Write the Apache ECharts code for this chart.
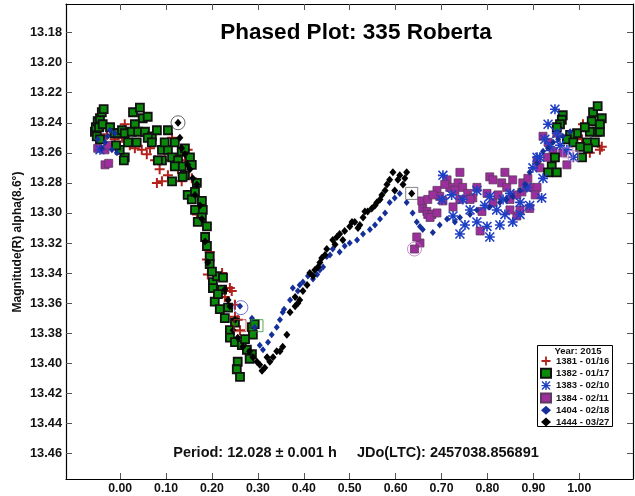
<!DOCTYPE html>
<html>
<head>
<meta charset="utf-8">
<script src="https://cdn.jsdelivr.net/npm/echarts@6/dist/echarts.min.js"></script>
<style>
html,body{margin:0;padding:0;background:#fff;}
#chart{width:635px;height:496px;}
</style>
</head>
<body>
<div id="chart"></div>
<script>
// ---- Data (phase, magnitude) ----
const seriesNames = ['1381 - 01/16','1382 - 01/17','1383 - 02/10','1384 - 02/11','1404 - 02/18','1444 - 03/27'];
const xTicks = [0,0.1,0.2,0.3,0.4,0.5,0.6,0.7,0.8,0.9,1.0];
const yTicks = [13.18,13.20,13.22,13.24,13.26,13.28,13.30,13.32,13.34,13.36,13.38,13.40,13.42,13.44,13.46];
const xRange = [-0.118, 1.117];
const yRange = [13.161, 13.477];

const s1381 = [[0.010,13.241],[0.004,13.250],[0.047,13.258],[0.058,13.261],[0.086,13.271],[0.091,13.279],[0.113,13.250],[0.134,13.279],[0.156,13.277],[0.167,13.301],[-0.029,13.248],[-0.012,13.251],[0.021,13.255],[0.032,13.257],[0.065,13.257],[0.076,13.265],[0.097,13.265],[0.126,13.271],[0.141,13.265],[0.147,13.258],[0.104,13.275],[0.080,13.280],[0.195,13.326],[0.189,13.331],[0.191,13.341],[0.222,13.340],[0.239,13.350],[0.243,13.352],[0.250,13.361],[0.256,13.371],[0.250,13.369],[0.261,13.378],[0.228,13.356],[1.008,13.241],[1.006,13.251],[1.045,13.258],[1.049,13.256],[1.023,13.260],[0.984,13.253],[0.995,13.250]];

const s1382 = [[-0.055,13.246],[-0.053,13.243],[-0.049,13.239],[-0.044,13.237],[-0.040,13.233],[-0.036,13.231],[-0.051,13.249],[-0.044,13.251],[-0.046,13.243],[-0.038,13.241],[-0.022,13.243],[-0.012,13.247],[-0.005,13.247],[0.004,13.245],[0.010,13.247],[0.017,13.253],[0.010,13.263],[-0.001,13.258],[-0.009,13.255],[0.028,13.233],[0.043,13.230],[0.049,13.237],[0.060,13.236],[0.032,13.241],[0.025,13.246],[0.039,13.246],[0.054,13.246],[0.069,13.249],[0.036,13.253],[0.060,13.250],[0.080,13.245],[0.104,13.245],[0.069,13.253],[0.091,13.258],[0.104,13.258],[0.134,13.259],[0.119,13.253],[0.097,13.253],[0.091,13.265],[0.113,13.263],[0.126,13.265],[0.141,13.257],[0.152,13.263],[0.134,13.269],[0.156,13.268],[0.119,13.269],[0.141,13.275],[0.113,13.279],[0.136,13.276],[0.167,13.280],[0.147,13.288],[0.156,13.291],[0.163,13.286],[0.178,13.292],[0.163,13.298],[0.180,13.298],[0.178,13.303],[0.189,13.309],[0.082,13.265],[0.008,13.265],[0.169,13.306],[0.185,13.316],[0.189,13.322],[0.195,13.329],[0.202,13.346],[0.211,13.342],[0.224,13.343],[0.202,13.350],[0.222,13.351],[0.206,13.359],[0.217,13.364],[0.235,13.363],[0.228,13.370],[0.250,13.373],[0.239,13.378],[0.239,13.383],[0.250,13.386],[0.265,13.388],[0.276,13.391],[0.287,13.394],[0.256,13.399],[0.254,13.404],[0.261,13.409],[0.289,13.381],[0.287,13.376],[0.293,13.374],[0.195,13.334],[0.200,13.339],[0.213,13.354],[0.272,13.384],[0.282,13.397],[0.964,13.235],[0.962,13.238],[0.958,13.241],[0.951,13.243],[1.030,13.233],[1.040,13.229],[1.049,13.237],[1.027,13.239],[1.038,13.246],[1.045,13.246],[1.023,13.246],[1.017,13.253],[1.034,13.253],[0.995,13.247],[0.980,13.248],[0.973,13.251],[0.987,13.253],[1.002,13.256],[1.006,13.263],[1.019,13.257],[0.947,13.263],[0.940,13.269],[0.932,13.273],[0.951,13.273],[1.012,13.243],[1.045,13.241]];

const s1383 = [[0.703,13.275],[0.701,13.291],[0.740,13.314],[0.805,13.316],[0.827,13.308],[0.855,13.306],[0.777,13.306],[0.799,13.309],[0.918,13.290],[0.921,13.277],[0.899,13.270],[0.908,13.263],[0.932,13.241],[0.947,13.231],[0.725,13.302],[0.762,13.298],[0.820,13.298],[0.871,13.293],[0.834,13.291],[0.805,13.289],[0.777,13.285],[0.746,13.291],[0.886,13.283],[0.849,13.287],[0.914,13.263],[0.936,13.256],[0.951,13.247],[0.973,13.258],[0.987,13.263],[0.871,13.301],[0.838,13.301],[0.794,13.295],[0.751,13.308],[0.722,13.288],[0.892,13.295],[0.925,13.251],[0.958,13.255],[-0.044,13.258]];

const s1384 = [[-0.044,13.243],[-0.049,13.257],[-0.033,13.258],[-0.027,13.255],[-0.033,13.268],[-0.025,13.267],[-0.040,13.250],[0.641,13.324],[0.653,13.320],[0.646,13.316],[0.659,13.297],[0.668,13.299],[0.670,13.301],[0.657,13.292],[0.740,13.273],[0.712,13.278],[0.690,13.285],[0.696,13.289],[0.670,13.291],[0.679,13.301],[0.718,13.283],[0.736,13.280],[0.746,13.283],[0.757,13.287],[0.768,13.290],[0.777,13.283],[0.805,13.276],[0.812,13.278],[0.838,13.273],[0.831,13.280],[0.842,13.283],[0.849,13.291],[0.864,13.288],[0.877,13.280],[0.875,13.286],[0.892,13.283],[0.908,13.283],[0.904,13.288],[0.892,13.297],[0.871,13.298],[0.864,13.302],[0.849,13.298],[0.788,13.299],[0.784,13.312],[0.812,13.293],[0.799,13.287],[0.921,13.249],[0.932,13.253],[0.951,13.247],[0.964,13.260],[0.973,13.268],[0.908,13.265],[0.930,13.263],[0.943,13.259],[0.740,13.291],[0.725,13.296],[0.703,13.292],[0.675,13.303],[0.690,13.300],[0.762,13.291],[0.681,13.288],[0.707,13.281],[0.729,13.285],[0.823,13.288],[0.855,13.278],[0.888,13.277],[0.914,13.270]];

const s1404 = [[-0.022,13.245],[-0.012,13.247],[-0.049,13.251],[-0.033,13.253],[-0.018,13.258],[-0.007,13.260],[-0.040,13.257],[-0.027,13.249],[0.261,13.362],[0.287,13.370],[0.293,13.376],[0.304,13.388],[0.320,13.396],[0.322,13.386],[0.341,13.376],[0.348,13.371],[0.357,13.364],[0.370,13.358],[0.376,13.350],[0.391,13.348],[0.409,13.342],[0.429,13.341],[0.450,13.329],[0.354,13.366],[0.420,13.344],[0.442,13.336],[0.478,13.326],[0.516,13.318],[0.544,13.311],[0.566,13.304],[0.587,13.293],[0.609,13.287],[0.624,13.293],[0.646,13.306],[0.659,13.311],[0.637,13.300],[0.653,13.309],[0.681,13.313],[0.712,13.304],[0.740,13.303],[0.777,13.298],[0.805,13.296],[0.842,13.291],[0.871,13.285],[0.892,13.273],[0.908,13.267],[0.921,13.259],[0.943,13.253],[0.964,13.249],[0.980,13.246],[0.463,13.324],[0.489,13.322],[0.500,13.320],[0.529,13.314],[0.555,13.308],[0.577,13.300],[0.598,13.290],[0.311,13.391],[0.330,13.381],[0.387,13.352],[0.398,13.346],[0.435,13.338],[0.457,13.328],[0.696,13.308],[0.729,13.306],[0.762,13.301],[0.827,13.293],[0.855,13.289],[0.882,13.281],[0.932,13.257],[0.954,13.251]];

const s1444 = [[0.126,13.240],[0.130,13.250],[0.134,13.257],[0.147,13.268],[0.158,13.277],[0.163,13.288],[0.174,13.295],[0.178,13.304],[0.185,13.319],[0.191,13.333],[0.239,13.362],[0.246,13.378],[0.256,13.383],[0.267,13.389],[0.282,13.392],[0.298,13.399],[0.309,13.405],[0.320,13.396],[0.333,13.396],[0.348,13.392],[0.354,13.389],[0.363,13.381],[0.370,13.366],[0.381,13.362],[0.391,13.358],[0.407,13.348],[0.420,13.342],[0.435,13.333],[0.450,13.324],[0.413,13.340],[0.463,13.318],[0.500,13.309],[0.529,13.303],[0.559,13.293],[0.581,13.281],[0.594,13.273],[0.624,13.273],[0.635,13.287],[0.141,13.261],[0.152,13.271],[0.167,13.281],[0.228,13.351],[0.235,13.358],[0.250,13.371],[0.289,13.396],[0.304,13.401],[0.315,13.403],[0.478,13.314],[0.489,13.312],[0.511,13.306],[0.539,13.299],[0.548,13.297],[0.570,13.288],[0.605,13.278],[0.616,13.281],[0.598,13.285],[0.326,13.399],[0.341,13.392],[0.387,13.360],[0.424,13.338],[0.446,13.328],[0.468,13.321],[0.522,13.308],[0.566,13.291],[0.609,13.275],[0.381,13.356],[0.398,13.352],[0.431,13.336],[0.439,13.330],[0.472,13.316],[0.485,13.318],[0.505,13.306],[0.518,13.310],[0.533,13.299],[0.555,13.295],[0.577,13.285],[0.587,13.278],[0.620,13.277]];

// highlighted (first) points
const ring1444 = [[0.126,13.240]];
const ring1404 = [[0.263,13.363]];
const ring1384 = [[0.641,13.324]];
const box1444 = [[0.635,13.287]];
const box1382 = [[0.298,13.375]];
const box1381 = [[0.261,13.375]];
const box1384 = [[0.975,13.260],[0.987,13.262]];

const titleText = 'Phased Plot: 335 Roberta';
const infoText = 'Period: 12.028 \u00b1 0.001 h     JDo(LTC): 2457038.856891';
const yName = 'Magnitude(R) alpha(8.6\u00b0)';
const legendTitle = 'Year: 2015';

// ---- Chart ----
const FONT = 'Liberation Sans, Arial, sans-serif';
const plusPath = 'path://M4,0H6V4H10V6H6V10H4V6H0V4H4Z';
const starPath = 'path://M4.2,0H5.8V10H4.2Z M0,4.2H10V5.8H0Z M1.1,0L10,8.9L8.9,10L0,1.1Z M8.9,0L10,1.1L1.1,10L0,8.9Z';

const chart = echarts.init(document.getElementById('chart'), null, {renderer:'canvas'});

function hl(data, symbol, color, size){
  return {type:'scatter', data:data, symbol:symbol, symbolSize:size, silent:true, z:5,
    itemStyle:{color:'rgba(0,0,0,0)', borderColor:color, borderWidth:1}};
}

const axisCommon = {
  type:'value', axisLine:{show:true, onZero:false, lineStyle:{color:'#000', width:1.2}},
  splitLine:{show:false}
};

const option = {
  animation:false,
  backgroundColor:'#fff',
  grid:{left:66, right:2, top:4, bottom:17, containLabel:false, outerBoundsMode:'none'},
  xAxis:[
    Object.assign({}, axisCommon, {position:'bottom', min:xRange[0], max:xRange[1],
      axisTick:{show:true, inside:true, length:6, customValues:xTicks, lineStyle:{color:'#555'}},
      axisLabel:{show:true, customValues:xTicks, margin:4, color:'#111', fontFamily:FONT, fontWeight:'bold', fontSize:12.3,
        formatter:v=>v.toFixed(2)}}),
    Object.assign({}, axisCommon, {position:'top', min:xRange[0], max:xRange[1],
      axisTick:{show:true, inside:true, length:6, customValues:xTicks, lineStyle:{color:'#555'}},
      axisLabel:{show:false}})
  ],
  yAxis:[
    Object.assign({}, axisCommon, {position:'left', inverse:true, min:yRange[0], max:yRange[1],
      axisTick:{show:true, inside:true, length:6, customValues:yTicks, lineStyle:{color:'#555'}},
      axisLabel:{show:true, customValues:yTicks, margin:4, color:'#111', fontFamily:FONT, fontWeight:'bold', fontSize:12.8,
        formatter:v=>v.toFixed(2)}}),
    Object.assign({}, axisCommon, {position:'right', inverse:true, min:yRange[0], max:yRange[1],
      axisTick:{show:true, inside:true, length:6, customValues:yTicks, lineStyle:{color:'#555'}},
      axisLabel:{show:false}})
  ],
  legend:{
    orient:'vertical', left:540, top:356, padding:0, itemGap:1.8,
    itemWidth:10, itemHeight:9, data:seriesNames, selectedMode:false,
    textStyle:{fontFamily:FONT, fontWeight:'bold', fontSize:9.5, color:'#111', lineHeight:10}
  },
  graphic:[
    {type:'text', z:10, style:{text:titleText, x:356, y:33, font:'bold 22.5px '+FONT, fill:'#000', textAlign:'center', textVerticalAlign:'middle'}},
    {type:'text', z:10, style:{text:infoText, x:356, y:453, font:'bold 14.5px '+FONT, fill:'#111', textAlign:'center', textVerticalAlign:'middle'}},
    {type:'text', z:10, x:18, y:242, rotation:Math.PI/2, style:{text:yName, x:0, y:0, font:'bold 12px '+FONT, fill:'#111', textAlign:'center', textVerticalAlign:'middle'}},
    {type:'rect', z:-1, shape:{x:537.5, y:345.5, width:75, height:81}, style:{fill:'#fff', stroke:'#000', lineWidth:1}},
    {type:'text', z:10, style:{text:legendTitle, x:578, y:351, font:'bold 9.5px '+FONT, fill:'#111', textAlign:'center', textVerticalAlign:'middle'}}
  ],
  series:[
    {name:seriesNames[3], type:'scatter', data:s1384, symbol:'rect', symbolSize:8, z:2,
      itemStyle:{color:'#9c2f9c', borderColor:'#5e3a5e', borderWidth:0.8, opacity:1}},
    {name:seriesNames[0], type:'scatter', data:s1381, symbol:plusPath, symbolSize:10, z:3,
      itemStyle:{color:'#b3221c', opacity:1}},
    {name:seriesNames[1], type:'scatter', data:s1382, symbol:'rect', symbolSize:8, z:3,
      itemStyle:{color:'#0a8a0a', borderColor:'#111', borderWidth:1.8, opacity:1}},
    {name:seriesNames[2], type:'scatter', data:s1383, symbol:starPath, symbolSize:10, z:4,
      itemStyle:{color:'#1f3fc4', opacity:1}},
    {name:seriesNames[4], type:'scatter', data:s1404, symbol:'diamond', symbolSize:[6,7], z:4,
      itemStyle:{color:'#152f9a', opacity:1}},
    {name:seriesNames[5], type:'scatter', data:s1444, symbol:'diamond', symbolSize:[7,8], z:4,
      itemStyle:{color:'#000', opacity:1}},
    hl(ring1444,'circle','#444',14),
    hl(ring1404,'circle','#4a5ad0',14),
    hl(ring1384,'circle','#c070c0',14),
    hl(box1444,'rect','#666',12),
    hl(box1382,'rect','#2a9a2a',12),
    hl(box1381,'rect','#c04040',12),
    hl(box1384,'rect','#c080c0',10)
  ]
};
chart.setOption(option);
</script>
</body>
</html>
